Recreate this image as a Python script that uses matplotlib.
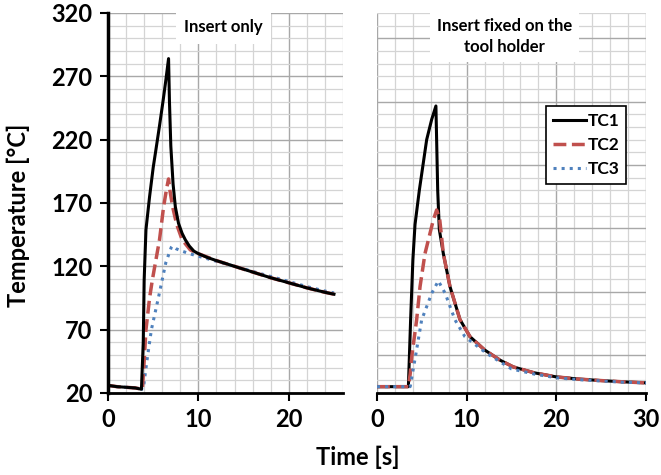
import numpy as np
import matplotlib.pyplot as plt
from matplotlib.ticker import MultipleLocator

plt.rcParams['font.family'] = ['Lato', 'DejaVu Sans']
plt.rcParams['font.weight'] = 'bold'

# Insert only (left panel)
t1_izq = [0, 1, 2, 3, 3.7, 3.9, 4.0, 4.2, 4.6, 5.0, 5.3, 5.7, 6.1, 6.4, 6.7, 6.8, 6.95,
          7.2, 7.45, 7.8, 8.2, 8.55, 9.0, 9.5, 10, 11, 12, 14, 16, 18, 20, 22, 24, 25]
tc1_izq = [26, 25, 24.5, 24, 23, 60, 109, 149, 175, 198, 212, 231, 251, 267, 284, 250, 215,
           185, 167, 154, 146, 141, 136, 132, 130, 127, 124.5, 120, 115.5, 111, 107, 103, 99.5, 98]

t2_izq = [0, 1, 2, 3, 3.8, 4.0, 4.2, 4.6, 4.9, 5.3, 5.7, 6.15, 6.5, 6.7, 6.85, 7.15, 7.6,
          8.2, 9.1, 10, 12, 14, 16, 18, 20, 22, 24, 25]
tc2_izq = [26, 25, 24.5, 24, 23, 45, 70, 95, 109, 125, 141, 167, 182, 189, 180, 167, 153,
           141, 133, 130, 124.5, 120, 115.5, 111, 107, 103, 99.5, 98]

t3_izq = [0, 1, 2, 3, 3.9, 4.3, 4.8, 5.6, 6.4, 7.0, 7.1, 7.5, 8, 9, 10, 12, 14, 16, 18,
          20, 22, 24, 25]
tc3_izq = [26, 25, 24.5, 24, 23, 45, 70, 96, 123, 135, 136, 134, 132.5, 130, 128, 124, 120,
           116, 112, 108, 104, 100.5, 99]

# Insert fixed on the tool holder (right panel)
t1_der = [0, 1, 2, 3, 3.5, 3.75, 4.0, 4.24, 4.72, 5.54, 6.1, 6.57, 6.65, 6.77, 6.95, 7.4,
          8.14, 9.25, 10.37, 12, 13.7, 15.2, 17.5, 20, 22.5, 25, 27.5, 30]
tc1_der = [25, 25, 25, 25, 25, 78, 125, 153, 180, 220, 236, 246.6, 220, 180, 149, 130,
           104, 78, 64.5, 54, 46, 40.6, 36, 32.7, 31, 29.8, 28.8, 28]

t2_der = [0, 1, 2, 3, 3.5, 3.7, 3.9, 4.42, 4.8, 5.35, 6.28, 6.65, 7.0, 7.4, 8.14, 9.25,
          10.37, 12, 13.7, 15.2, 17.5, 20, 22.5, 25, 27.5, 30]
tc2_der = [25, 25, 25, 25, 25, 35, 50, 77.7, 104, 130, 156.6, 164.5, 156.6, 130, 104, 78,
           64.5, 54, 46, 40.6, 36, 32.7, 31, 29.8, 28.8, 28]

t3_der = [0, 1, 2, 3, 3.7, 4.35, 4.98, 6.1, 6.84, 7.6, 8.7, 9.8, 12.2, 15, 17.5, 20, 22.5,
          25, 27.5, 30]
tc3_der = [25, 25, 25, 25, 25, 51.4, 77.7, 98.7, 108.5, 98.7, 77.7, 64.5, 51.4, 39, 35,
           32, 30.5, 29.5, 28.5, 28]

etiquetas = ['TC1', 'TC2', 'TC3']
titulos = ['Insert only', 'Insert fixed on the\ntool holder']

negro = 'black'
rojo = '#c0504d'
azul = '#4f81bd'

fig = plt.figure(figsize=(6.61, 4.75), dpi=100)
ax1 = fig.add_axes([108 / 661, 82 / 475, 235 / 661, 380 / 475])
ax2 = fig.add_axes([377 / 661, 82 / 475, 269 / 661, 380 / 475])


def formato_eje(ax, xmax):
    ax.set_xlim(0, xmax)
    ax.set_ylim(20, 320)
    ax.xaxis.set_major_locator(MultipleLocator(10))
    ax.xaxis.set_minor_locator(MultipleLocator(2))
    ax.yaxis.set_major_locator(MultipleLocator(50))
    ax.yaxis.set_minor_locator(MultipleLocator(10))
    ax.grid(True, which='major', color='#a8a8a8', linewidth=1.0)
    ax.grid(True, which='minor', color='#d4d4d4', linewidth=0.9)
    ax.set_axisbelow(True)
    ax.tick_params(which='minor', length=0)
    ax.tick_params(which='major', direction='out', length=6, width=1.5,
                   labelsize=17, pad=5)
    for s in ['top', 'right']:
        ax.spines[s].set_visible(False)
    ax.spines['bottom'].set_linewidth(2)


formato_eje(ax1, 26)
formato_eje(ax2, 30)
ax1.set_yticks(np.arange(20, 321, 50))
ax1.spines['left'].set_linewidth(2.5)
ax2.spines['left'].set_visible(False)
ax2.tick_params(axis='y', which='both', left=False, labelleft=False)

# Curvas
ax1.plot(t3_izq, tc3_izq, color=azul, linestyle=':', linewidth=2.2)
ax1.plot(t2_izq, tc2_izq, color=rojo, linestyle='--', linewidth=2.5)
ax1.plot(t1_izq, tc1_izq, color=negro, linestyle='-', linewidth=2.2)

l1, = ax2.plot(t1_der, tc1_der, color=negro, linestyle='-', linewidth=2.2)
l2, = ax2.plot(t2_der, tc2_der, color=rojo, linestyle='--', linewidth=2.5)
l3, = ax2.plot(t3_der, tc3_der, color=azul, linestyle=':', linewidth=2.2)

# Titulos con fondo blanco sobre la rejilla
ax1.text(0.49, 0.962, titulos[0], transform=ax1.transAxes, ha='center', va='center',
         fontsize=12, fontweight='bold',
         bbox=dict(facecolor='white', edgecolor='none', pad=6))
ax2.text(0.474, 0.938, titulos[1], transform=ax2.transAxes, ha='center', va='center',
         fontsize=12, fontweight='bold', linespacing=1.35,
         bbox=dict(facecolor='white', edgecolor='none', pad=5))

leg = ax2.legend([l1, l2, l3], etiquetas, loc='upper left', bbox_to_anchor=(0.628, 0.755),
                 fontsize=12.5, frameon=True, fancybox=False, framealpha=1,
                 edgecolor='black', handlelength=1.9, handletextpad=0.1,
                 borderpad=0.4, labelspacing=0.45, borderaxespad=0)
leg.get_frame().set_linewidth(1.2)

fig.text(18 / 661, 1 - 215 / 475, 'Temperature [°C]', rotation=90, ha='center',
         va='center', fontsize=17, fontweight='bold')
fig.text(358 / 661, 1 - 457 / 475, 'Time [s]', ha='center', va='center',
         fontsize=17, fontweight='bold')

plt.savefig('out.png', dpi=100)
